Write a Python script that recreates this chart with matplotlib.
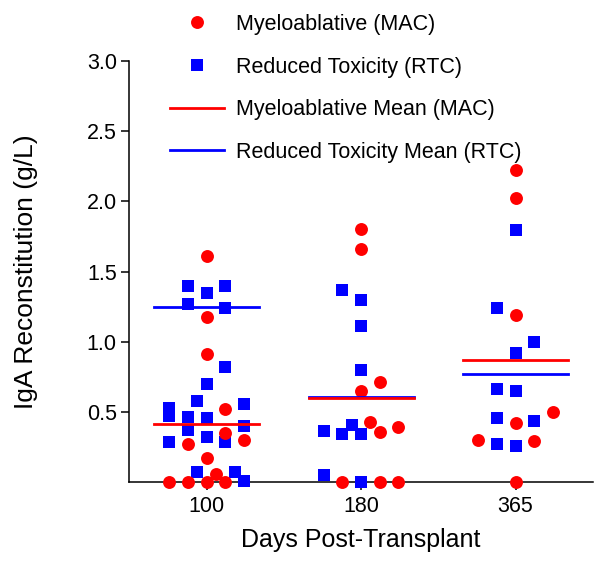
import matplotlib
matplotlib.use('Agg')
import matplotlib.pyplot as plt
from matplotlib.lines import Line2D

plt.rcParams['font.family'] = ['Liberation Sans', 'DejaVu Sans']

# data
days = ['100', '180', '365']

mac_100 = [1.61, 1.18, 0.91, 0.52, 0.355, 0.27, 0.30, 0.175, 0.057, 0, 0, 0, 0]
mac_180 = [1.805, 1.657, 0.717, 0.65, 0.43, 0.357, 0.393, 0, 0, 0]
mac_365 = [2.224, 2.02, 1.188, 0.502, 0.426, 0.305, 0.295, 0]

rtc_100 = [1.40, 1.40, 1.35, 1.27, 1.24, 0.82, 0.70, 0.576, 0.53, 0.475, 0.464,
           0.46, 0.557, 0.40, 0.37, 0.288, 0.324, 0.288, 0.074, 0.074, 0.01]
rtc_180 = [1.37, 1.30, 1.11, 0.80, 0.367, 0.345, 0.407, 0.345, 0.055, 0.0]
rtc_365 = [1.793, 1.24, 1.0, 0.924, 0.667, 0.65, 0.457, 0.438, 0.276, 0.262]

mac_mean = [0.414, 0.600, 0.871]
rtc_mean = [1.245, 0.605, 0.771]

# scatter slots (horizontal arrangement of the dot plot)
mac_slot = [
    [0, 0, 0, 1, 1, -1, 2, 0, 0.5, -2, -1, 0, 1],
    [0, 0, 1, 0, 0.5, 1, 2, -1, 1, 2],
    [0, 0, 0, 2, 0, -2, 1, 0],
]
rtc_slot = [
    [-1, 1, 0, -1, 1, 1, 0, -0.5, -2, -2, -1, 0, 2, 2, -1, -2, 0, 1, -0.5, 1.5, 2],
    [-1, 0, 0, 0, -2, -1, -0.5, 0, -2, 0],
    [0, -1, 1, 0, -1, 0, -1, 1, -1, 0],
]
step = 0.121

red = '#ff0000'
blue = '#0000ff'

fig = plt.figure(figsize=(6, 5.61), dpi=100)
ax = fig.add_axes([0.2155, 0.140, 0.7725, 0.752])

mac_groups = [mac_100, mac_180, mac_365]
rtc_groups = [rtc_100, rtc_180, rtc_365]

for i in range(3):
    xs = [i + s * step for s in rtc_slot[i]]
    ax.plot(xs, rtc_groups[i], 's', color=blue, markersize=8.8,
            markeredgewidth=0, clip_on=False, zorder=3)
    xs = [i + s * step for s in mac_slot[i]]
    ax.plot(xs, mac_groups[i], 'o', color=red, markersize=9.3,
            markeredgewidth=0, clip_on=False, zorder=4)
    ax.plot([i - 0.34, i + 0.34], [rtc_mean[i]] * 2, color=blue, lw=2, zorder=5)
    ax.plot([i - 0.34, i + 0.34], [mac_mean[i]] * 2, color=red, lw=2, zorder=6)

ax.set_xlim(-0.5, 2.5)
ax.set_ylim(0, 3.0)
ax.set_xticks(range(3))
ax.set_xticklabels(days)
ax.set_yticks([0.5, 1.0, 1.5, 2.0, 2.5, 3.0])
ax.set_yticklabels(['0.5', '1.0', '1.5', '2.0', '2.5', '3.0'])
ax.spines['top'].set_visible(False)
ax.spines['right'].set_visible(False)
for s in ['left', 'bottom']:
    ax.spines[s].set_linewidth(1.1)
ax.tick_params(labelsize=15.5, width=1.1, length=6, pad=3)
ax.tick_params(axis='x', pad=4)

ax.set_xlabel('Days Post-Transplant', fontsize=18, labelpad=8)
ax.set_ylabel('IgA Reconstitution (g/L)', fontsize=19, labelpad=35)

handles = [
    Line2D([], [], marker='o', color=red, ls='none', markersize=9.3, markeredgewidth=0),
    Line2D([], [], marker='s', color=blue, ls='none', markersize=8.8, markeredgewidth=0),
    Line2D([], [], color=red, lw=2),
    Line2D([], [], color=blue, lw=2),
]
labels = ['Myeloablative (MAC)', 'Reduced Toxicity (RTC)',
          'Myeloablative Mean (MAC)', 'Reduced Toxicity Mean (RTC)']
fig.legend(handles, labels, loc='upper left', bbox_to_anchor=(0.283, 0.975),
           frameon=False, fontsize=15.5, handlelength=2.5, handletextpad=0.56,
           labelspacing=1.0, borderpad=0, borderaxespad=0)

fig.savefig('out.png', dpi=100)
